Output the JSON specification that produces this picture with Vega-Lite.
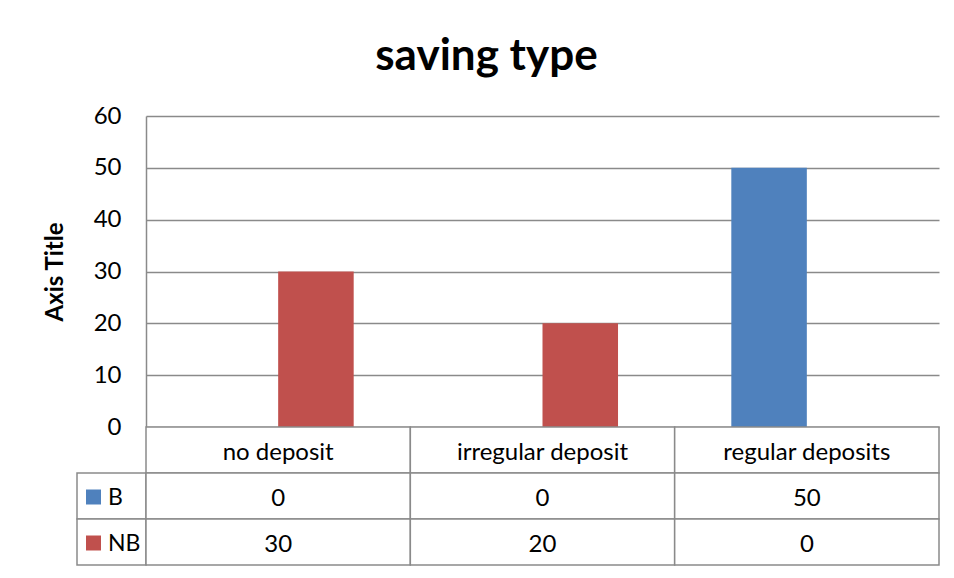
{
  "$schema": "https://vega.github.io/schema/vega-lite/v6.json",
  "background": "white",
  "padding": {"left": 43, "top": 35, "right": 10, "bottom": 10},
  "title": {"text": "saving type", "fontSize": 44, "fontWeight": "bold", "color": "black", "anchor": "middle", "offset": 25, "dx": -5},
  "datasets": {
    "savings": [
      {"category": "no deposit", "series": "B", "value": 0},
      {"category": "no deposit", "series": "NB", "value": 30},
      {"category": "irregular deposit", "series": "B", "value": 0},
      {"category": "irregular deposit", "series": "NB", "value": 20},
      {"category": "regular deposits", "series": "B", "value": 50},
      {"category": "regular deposits", "series": "NB", "value": 0}
    ]
  },
  "columns": 2,
  "spacing": {"row": 0, "column": 0},
  "bounds": "flush",
  "align": "each",
  "concat": [
    {
      "width": 69,
      "height": 311,
      "data": {"values": [{}]},
      "mark": {"type": "text", "text": ""},
      "encoding": {}
    },
    {
      "width": 793,
      "height": 311,
      "data": {"name": "savings"},
      "mark": {"type": "bar"},
      "encoding": {
        "x": {
          "field": "category", "type": "nominal",
          "sort": ["no deposit", "irregular deposit", "regular deposits"],
          "scale": {"paddingInner": 0, "paddingOuter": 0},
          "axis": null
        },
        "xOffset": {
          "field": "series", "type": "nominal", "sort": ["B", "NB"],
          "scale": {"paddingInner": 0, "paddingOuter": 0.75}
        },
        "y": {
          "field": "value", "type": "quantitative",
          "scale": {"domain": [0, 60]},
          "axis": {
            "values": [0, 10, 20, 30, 40, 50, 60],
            "title": "Axis Title", "titleFontSize": 24, "titleFontWeight": "bold", "titleColor": "black", "titlePadding": 26,
            "labelFontSize": 24, "labelColor": "black", "ticks": false, "labelPadding": 25,
            "domainColor": "#8a8a8a", "domainWidth": 1.5,
            "gridColor": "#8a8a8a", "gridWidth": 1.5
          }
        },
        "color": {
          "field": "series", "type": "nominal",
          "scale": {"domain": ["B", "NB"], "range": ["#4F81BD", "#C0504D"]},
          "legend": null
        }
      }
    },
    {
      "width": 69,
      "height": 138,
      "data": {"name": "savings"},
      "transform": [{"filter": "datum.category === 'no deposit'"}],
      "encoding": {
        "y": {
          "field": "series", "type": "nominal",
          "scale": {"domain": ["header", "B", "NB"], "paddingInner": 0, "paddingOuter": 0},
          "axis": null
        }
      },
      "layer": [
        {"mark": {"type": "rect", "fill": "white", "stroke": "#8a8a8a", "strokeWidth": 1.5}},
        {
          "mark": {"type": "point", "shape": "square", "filled": true, "opacity": 1, "size": 225, "xOffset": -18, "yOffset": 1},
          "encoding": {
            "color": {
              "field": "series", "type": "nominal",
              "scale": {"domain": ["B", "NB"], "range": ["#4F81BD", "#C0504D"]},
              "legend": null
            }
          }
        },
        {
          "mark": {"type": "text", "align": "left", "dx": -3.5, "dy": 2, "fontSize": 23, "color": "black"},
          "encoding": {"text": {"field": "series"}}
        }
      ]
    },
    {
      "width": 793,
      "height": 138,
      "data": {"name": "savings"},
      "layer": [
        {
          "transform": [{"filter": "datum.series === 'B'"}],
          "encoding": {
            "x": {
              "field": "category", "type": "nominal",
              "sort": ["no deposit", "irregular deposit", "regular deposits"],
              "scale": {"paddingInner": 0, "paddingOuter": 0},
              "axis": null
            },
            "y": {
              "datum": "header", "type": "nominal",
              "scale": {"domain": ["header", "B", "NB"], "paddingInner": 0, "paddingOuter": 0},
              "axis": null
            }
          },
          "layer": [
            {"mark": {"type": "rect", "fill": "white", "stroke": "#8a8a8a", "strokeWidth": 1.5}},
            {
              "mark": {"type": "text", "fontSize": 24, "dy": 3, "color": "black"},
              "encoding": {"text": {"field": "category"}}
            }
          ]
        },
        {
          "encoding": {
            "x": {
              "field": "category", "type": "nominal",
              "sort": ["no deposit", "irregular deposit", "regular deposits"],
              "axis": null
            },
            "y": {"field": "series", "type": "nominal", "axis": null}
          },
          "layer": [
            {"mark": {"type": "rect", "fill": "white", "stroke": "#8a8a8a", "strokeWidth": 1.5}},
            {
              "mark": {"type": "text", "fontSize": 24, "dy": 3, "color": "black"},
              "encoding": {"text": {"field": "value", "type": "quantitative"}}
            }
          ]
        }
      ]
    }
  ],
  "config": {
    "font": "Lato",
    "view": {"stroke": null}
  }
}
